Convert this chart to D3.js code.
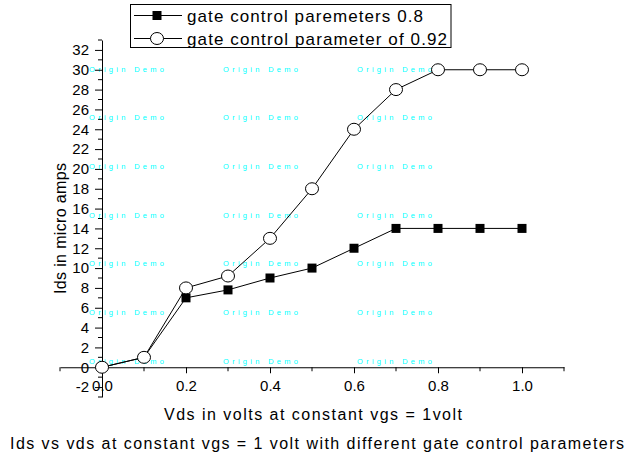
<!DOCTYPE html>
<html>
<head>
<meta charset="utf-8">
<script src="https://cdn.jsdelivr.net/npm/d3@7/dist/d3.min.js"></script>
<style>
  html, body { margin: 0; padding: 0; background: #fff; }
  svg { display: block; font-family: "Liberation Sans", Arial, sans-serif; }
</style>
</head>
<body>
<svg id="chart" width="630" height="457"></svg>
<script>
// ---- data ----
const vds = [0.0, 0.1, 0.2, 0.3, 0.4, 0.5, 0.6, 0.7, 0.8, 0.9, 1.0];
const ids08 = [0, 1, 7, 7.8, 9, 10, 12, 14, 14, 14, 14];
const ids092 = [0, 1, 8, 9.2, 13, 18, 24, 28, 30, 30, 30];
const seriesNames = ["gate control paremeters 0.8", "gate control parameter of 0.92"];
const yMajorTicks = [-2, 0, 2, 4, 6, 8, 10, 12, 14, 16, 18, 20, 22, 24, 26, 28, 30, 32];
const xMajorTicks = [0.0, 0.2, 0.4, 0.6, 0.8, 1.0];
const xTitle = "Vds in volts at constant vgs = 1volt";
const yTitle = "Ids in micro amps";
const chartTitle = "Ids vs vds at constant vgs = 1 volt with different gate control parameters";
const watermark = "Origin Demo";

// ---- layout ----
const svg = d3.select("#chart");
const x = d3.scaleLinear().domain([-0.1, 1.1]).range([60, 564]);
const y = d3.scaleLinear().domain([-3, 33]).range([397, 40]);

// watermark (behind everything)
const wmG = svg.append("g");
for (let r = 0; r < 7; r++) {
  for (let c = 0; c < 3; c++) {
    wmG.append("text")
      .attr("x", 89 + c * 134)
      .attr("y", 71.5 + r * 48.7)
      .attr("font-size", 7.5)
      .attr("fill", "#00ffff")
      .attr("textLength", 75)
      .attr("lengthAdjust", "spacing")
      .text(watermark);
  }
}

// minor ticks
const yMinor = d3.range(-3, 34, 1).filter(v => !yMajorTicks.includes(v));
const xMinor = d3.range(-1, 12, 1).map(v => v / 10).filter(v => !xMajorTicks.some(t => Math.abs(t - v) < 1e-9));

// Y axis at x = 0
const yAxisG = svg.append("g").attr("transform", `translate(${x(0)},0)`);
yAxisG.call(d3.axisLeft(y).tickValues(yMajorTicks).tickSizeInner(7).tickSizeOuter(0).tickPadding(6)
  .tickFormat(d => String(d)));
yAxisG.append("g").selectAll("line").data(yMinor).join("line")
  .attr("x1", -4).attr("x2", 0).attr("y1", d => y(d)).attr("y2", d => y(d))
  .attr("stroke", "#000");

// X axis at y = 0
const xAxisG = svg.append("g").attr("transform", `translate(0,${y(0)})`);
xAxisG.call(d3.axisBottom(x).tickValues(xMajorTicks).tickSizeInner(6).tickSizeOuter(0).tickPadding(7)
  .tickFormat(d => d.toFixed(1)));
xAxisG.append("g").selectAll("line").data(xMinor).join("line")
  .attr("x1", d => x(d)).attr("x2", d => x(d)).attr("y1", 0).attr("y2", 4)
  .attr("stroke", "#000");

[yAxisG, xAxisG].forEach(g => {
  g.selectAll("text").attr("font-size", 15).attr("font-family", "Liberation Sans, Arial, sans-serif").attr("fill", "#000");
  g.selectAll("path.domain").attr("stroke", "#000").attr("stroke-width", 1);
  g.selectAll(".tick line").attr("stroke", "#000");
});

// lines
const line = d3.line().x((d, i) => x(vds[i])).y(d => y(d));
svg.append("path").datum(ids08).attr("d", line).attr("fill", "none").attr("stroke", "#000").attr("stroke-width", 1);
svg.append("path").datum(ids092).attr("d", line).attr("fill", "none").attr("stroke", "#000").attr("stroke-width", 1);

// markers
svg.append("g").selectAll("rect").data(ids08).join("rect")
  .attr("x", (d, i) => x(vds[i]) - 4.5).attr("y", d => y(d) - 4.5)
  .attr("width", 9).attr("height", 9).attr("fill", "#000");
svg.append("g").selectAll("ellipse").data(ids092).join("ellipse")
  .attr("cx", (d, i) => x(vds[i])).attr("cy", d => y(d))
  .attr("rx", 6.5).attr("ry", 6)
  .attr("fill", "#fff").attr("stroke", "#000").attr("stroke-width", 1);

// axis titles
svg.append("text").attr("x", 164).attr("y", 419.5).attr("font-size", 16)
  .attr("textLength", 298).attr("lengthAdjust", "spacing").text(xTitle);
svg.append("text").attr("transform", "translate(66,294) rotate(-90)").attr("font-size", 16)
  .attr("textLength", 131).attr("lengthAdjust", "spacing").text(yTitle);
svg.append("text").attr("x", 10).attr("y", 448.5).attr("font-size", 16)
  .attr("textLength", 614).attr("lengthAdjust", "spacing").text(chartTitle);

// legend
const lg = svg.append("g");
lg.append("rect").attr("x", 130.5).attr("y", 4.5).attr("width", 320.5).attr("height", 43)
  .attr("fill", "#fff").attr("stroke", "#000").attr("stroke-width", 1);
const rowY = [15.5, 38.5];
const textW = [236, 260];
rowY.forEach((ry, i) => {
  lg.append("line").attr("x1", 134).attr("x2", 182).attr("y1", ry).attr("y2", ry).attr("stroke", "#000");
  if (i === 0) {
    lg.append("rect").attr("x", 157 - 4.5).attr("y", ry - 4.5).attr("width", 9).attr("height", 9).attr("fill", "#000");
  } else {
    lg.append("ellipse").attr("cx", 157).attr("cy", ry).attr("rx", 6.5).attr("ry", 6)
      .attr("fill", "#fff").attr("stroke", "#000");
  }
  lg.append("text").attr("x", 187).attr("y", ry + 6).attr("font-size", 17)
    .attr("textLength", textW[i]).attr("lengthAdjust", "spacing").text(seriesNames[i]);
});
</script>
</body>
</html>
